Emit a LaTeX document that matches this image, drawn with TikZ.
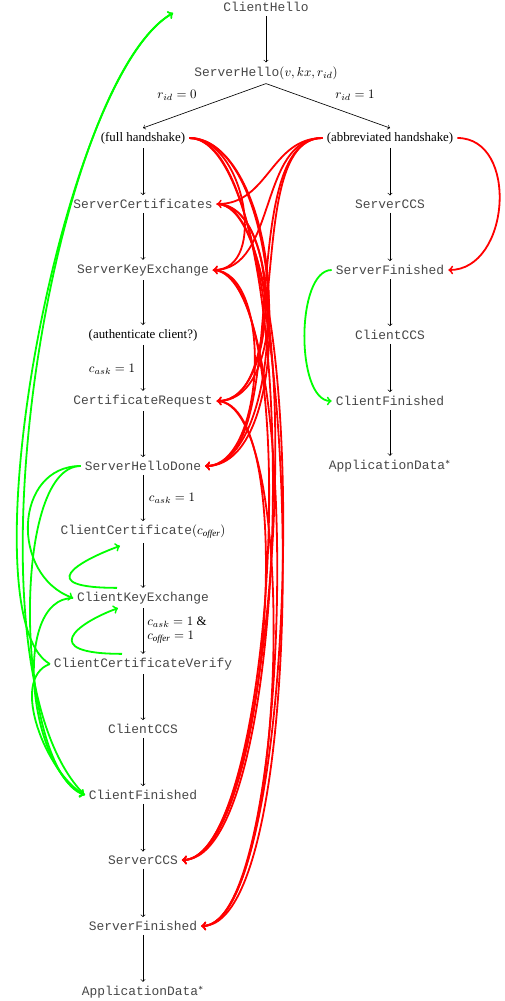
\documentclass[tikz,border=0pt]{standalone}
\usepackage{fontspec}
\setmainfont{Liberation Serif}
\setmonofont{Liberation Mono}
\usetikzlibrary{calc}
\newcommand\msg[1]{\textcolor{black!72}{\texttt{#1}}}
\begin{document}
\begin{tikzpicture}[x=0.775pt,y=-0.775pt,
  every node/.style={inner sep=3pt},
  arr/.style={->, line width=0.5pt},
  rd/.style={->, draw=red, line width=1.4pt},
  gr/.style={->, draw=green, line width=1.4pt}]
\useasboundingbox (0,0) rectangle (504,1001);
% left column
\node (CH) at (266,7) {\msg{ClientHello}};
\node (SH) at (266,73) {\msg{ServerHello}$(v,kx,r_{id})$};
\node (FH) at (143,138) {(full handshake)};
\node (AH) at (390,138) {(abbreviated handshake)};
\node (SC) at (143,204) {\msg{ServerCertificates}};
\node (SKE) at (143,270) {\msg{ServerKeyExchange}};
\node (AC) at (143,335) {(authenticate client?)};
\node (CR) at (143,401) {\msg{CertificateRequest}};
\node (SHD) at (143,466) {\msg{ServerHelloDone}};
\node (CC) at (143,532) {\msg{ClientCertificate}$(c_{\mathit{offer}})$};
\node (CKE) at (143,598) {\msg{ClientKeyExchange}};
\node (CCV) at (143,664) {\msg{ClientCertificateVerify}};
\node (CCCS) at (143,729) {\msg{ClientCCS}};
\node (CF) at (143,795) {\msg{ClientFinished}};
\node (SCCS) at (143,860) {\msg{ServerCCS}};
\node (SF) at (143,926) {\msg{ServerFinished}};
\node (AD) at (143,992) {\msg{ApplicationData}$^*$};
% right column
\node (RSCCS) at (390,204) {\msg{ServerCCS}};
\node (RSF) at (390,270) {\msg{ServerFinished}};
\node (RCCCS) at (390,335) {\msg{ClientCCS}};
\node (RCF) at (390,401) {\msg{ClientFinished}};
\node (RAD) at (390,466) {\msg{ApplicationData}$^*$};
\coordinate (chin) at (173,13);
% labels
\node (l0) at (177,95) {$r_{id}=0$};
\node (l1) at (355,95) {$r_{id}=1$};
\node (l2) at (112,369) {$c_{ask}=1$};
\node (l3) at (172,498) {$c_{ask}=1$};
\node[anchor=west,align=left,inner sep=0pt] (l4) at (147,630) {$c_{ask}=1$ \&\\[-1pt]$c_{\mathit{offer}}=1$};
% black arrows
\draw[arr] (CH) -- (SH);
\draw[arr] (SH.south) -- (FH.north);
\draw[arr] (SH.south) -- (AH.north);
\foreach \a/\b in {FH/SC,SC/SKE,SKE/AC,AC/CR,CR/SHD,SHD/CC,CC/CKE,CKE/CCV,CCV/CCCS,CCCS/CF,CF/SCCS,SCCS/SF,SF/AD,AH/RSCCS,RSCCS/RSF,RSF/RCCCS,RCCCS/RCF,RCF/RAD}
  \draw[arr] (\a) -- (\b);
% red edges (server side skips)
\draw[rd] (FH.east) to[out=0,in=0,distance=43pt] (SKE.east);
\draw[rd] (FH.east) to[out=0,in=0,distance=66pt] (CR.east);
\draw[rd] (FH.east) to[out=0,in=0,distance=74pt] (SHD.east);
\draw[rd] (FH.east) to[out=0,in=0,distance=90pt] (SCCS.east);
\draw[rd] (FH.east) to[out=0,in=0,distance=90pt] (SF.east);
\draw[rd] (SC.east) to[out=0,in=0,distance=50pt] (CR.east);
\draw[rd] (SC.east) to[out=0,in=0,distance=58pt] (SHD.east);
\draw[rd] (SC.east) to[out=0,in=0,distance=76pt] (SCCS.east);
\draw[rd] (SC.east) to[out=0,in=0,distance=76pt] (SF.east);
\draw[rd] (SKE.east) to[out=0,in=0,distance=47pt] (SHD.east);
\draw[rd] (SKE.east) to[out=0,in=0,distance=72pt] (SCCS.east);
\draw[rd] (SKE.east) to[out=0,in=0,distance=72pt] (SF.east);
\draw[rd] (CR.east) to[out=0,in=0,distance=66pt] (SCCS.east);
\draw[rd] (CR.east) to[out=0,in=0,distance=66pt] (SF.east);
\draw[rd] (AH.west) to[out=180,in=0,distance=40pt] (SC.east);
\draw[rd] (AH.west) to[out=180,in=0,distance=50pt] (SKE.east);
\draw[rd] (AH.west) to[out=180,in=0,distance=62pt] (CR.east);
\draw[rd] (AH.west) to[out=180,in=0,distance=70pt] (SHD.east);
\draw[rd] (AH.east) to[out=0,in=0,distance=48pt] (RSF.east);
% green edges (client side skips)
\draw[gr] (RSF.west) to[out=180,in=180,distance=28pt] (RCF.west);
\draw[gr] (SHD.west) to[out=180,in=160,distance=52pt] (CKE.west);
\draw[gr] (SHD.west) to[out=180,in=160,distance=56pt] (CF.west);
\draw[gr] (CKE.west) to[out=180,in=155,distance=48pt] (CF.west);
\draw[gr] (CCV.west) to[out=200,in=150,distance=34pt] (CF.west);
\draw[gr] ($(CKE.north)+(-26,0)$) to[out=180,in=200,out distance=65pt,in distance=35pt] ($(CC.south)+(-23,3)$);
\draw[gr] ($(CCV.north)+(-21,0)$) to[out=180,in=200,out distance=65pt,in distance=35pt] ($(CKE.south)+(-25,0)$);
\draw[gr] (CCV.west) to[out=150,in=210,out distance=77pt,in distance=101pt] (chin);
\draw[gr] (CF.west) to[out=135,in=210,out distance=143pt,in distance=108pt] (chin);
\end{tikzpicture}
\end{document}
